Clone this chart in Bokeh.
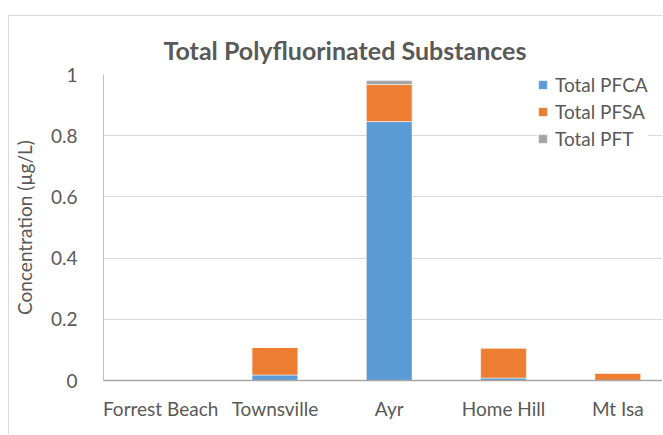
from bokeh.plotting import figure
from bokeh.models import ColumnDataSource, Range1d, FixedTicker, NumeralTickFormatter, Legend
from bokeh.embed import file_html
from bokeh.resources import INLINE

categories = ["Forrest Beach", "Townsville", "Ayr", "Home Hill", "Mt Isa"]
series = ["Total PFCA", "Total PFSA", "Total PFT"]
pfca = [0.0, 0.018, 0.846, 0.008, 0.0]
pfsa = [0.0, 0.090, 0.121, 0.098, 0.024]
pft = [0.0, 0.0, 0.013, 0.0, 0.0]
colors = ["#5B9BD5", "#ED7D31", "#A5A5A5"]
y_ticks = [0, 0.2, 0.4, 0.6, 0.8, 1.0]

FONT = "Lato"
TXT = "#595959"

src = ColumnDataSource(dict(x=list(range(len(categories))), pfca=pfca, pfsa=pfsa, pft=pft))

p = figure(width=654, height=419, output_backend="svg", toolbar_location=None,
           x_range=Range1d(-0.5, 4.4), y_range=Range1d(0, 1),
           min_border_left=93, min_border_right=0, min_border_top=58, min_border_bottom=55)
p.styles = {"margin-top": "15px", "margin-left": "8px",
            "border-top": "1px solid #d9d9d9", "border-left": "1px solid #d9d9d9"}

rs = p.vbar_stack(["pfca", "pfsa", "pft"], x="x", width=0.4, source=src, color=colors,
                  line_color="white", line_width=0.5)

p.title.text = "Total Polyfluorinated Substances"
p.title.text_font = FONT
p.title.text_font_size = "25px"
p.title.text_color = TXT
p.title.align = "left"
p.title.offset = 60
p.title.standoff = 19

p.xaxis.ticker = FixedTicker(ticks=list(range(len(categories))))
p.xaxis.major_label_overrides = {i: c for i, c in enumerate(categories)}
p.xaxis.major_tick_line_color = None
p.xaxis.minor_tick_line_color = None
p.xaxis.axis_line_color = "#a6a6a6"
p.xaxis.axis_line_width = 1.5
p.xaxis.major_label_text_font = FONT
p.xaxis.major_label_text_font_size = "19px"
p.xaxis.major_label_text_color = TXT
p.xaxis.major_label_standoff = 10

p.yaxis.ticker = FixedTicker(ticks=y_ticks)
p.yaxis.formatter = NumeralTickFormatter(format="0.[0]")
p.yaxis.major_tick_line_color = None
p.yaxis.minor_tick_line_color = None
p.yaxis.axis_line_color = "#bfbfbf"
p.yaxis.major_label_text_font = FONT
p.yaxis.major_label_text_font_size = "19px"
p.yaxis.major_label_text_color = TXT
p.yaxis.major_label_standoff = 20
p.yaxis.axis_label = "Concentration (µg/L)"
p.yaxis.axis_label_text_font = FONT
p.yaxis.axis_label_text_font_size = "19px"
p.yaxis.axis_label_text_font_style = "normal"
p.yaxis.axis_label_text_color = TXT
p.yaxis.axis_label_standoff = 12

p.xgrid.grid_line_color = None
p.ygrid.grid_line_color = "#d9d9d9"
p.outline_line_color = None

legend = Legend(items=[(s, [r]) for s, r in zip(series, rs)], location=(434, 230))
legend.label_text_font = FONT
legend.label_text_font_size = "19px"
legend.label_text_color = TXT
legend.glyph_width = 11
legend.glyph_height = 11
legend.label_height = 11
legend.label_standoff = 7
legend.spacing = 4
legend.padding = 10
legend.margin = 0
legend.border_line_color = None
legend.background_fill_alpha = 1.0
p.add_layout(legend)

open("out.html", "w").write(file_html(p, INLINE))
